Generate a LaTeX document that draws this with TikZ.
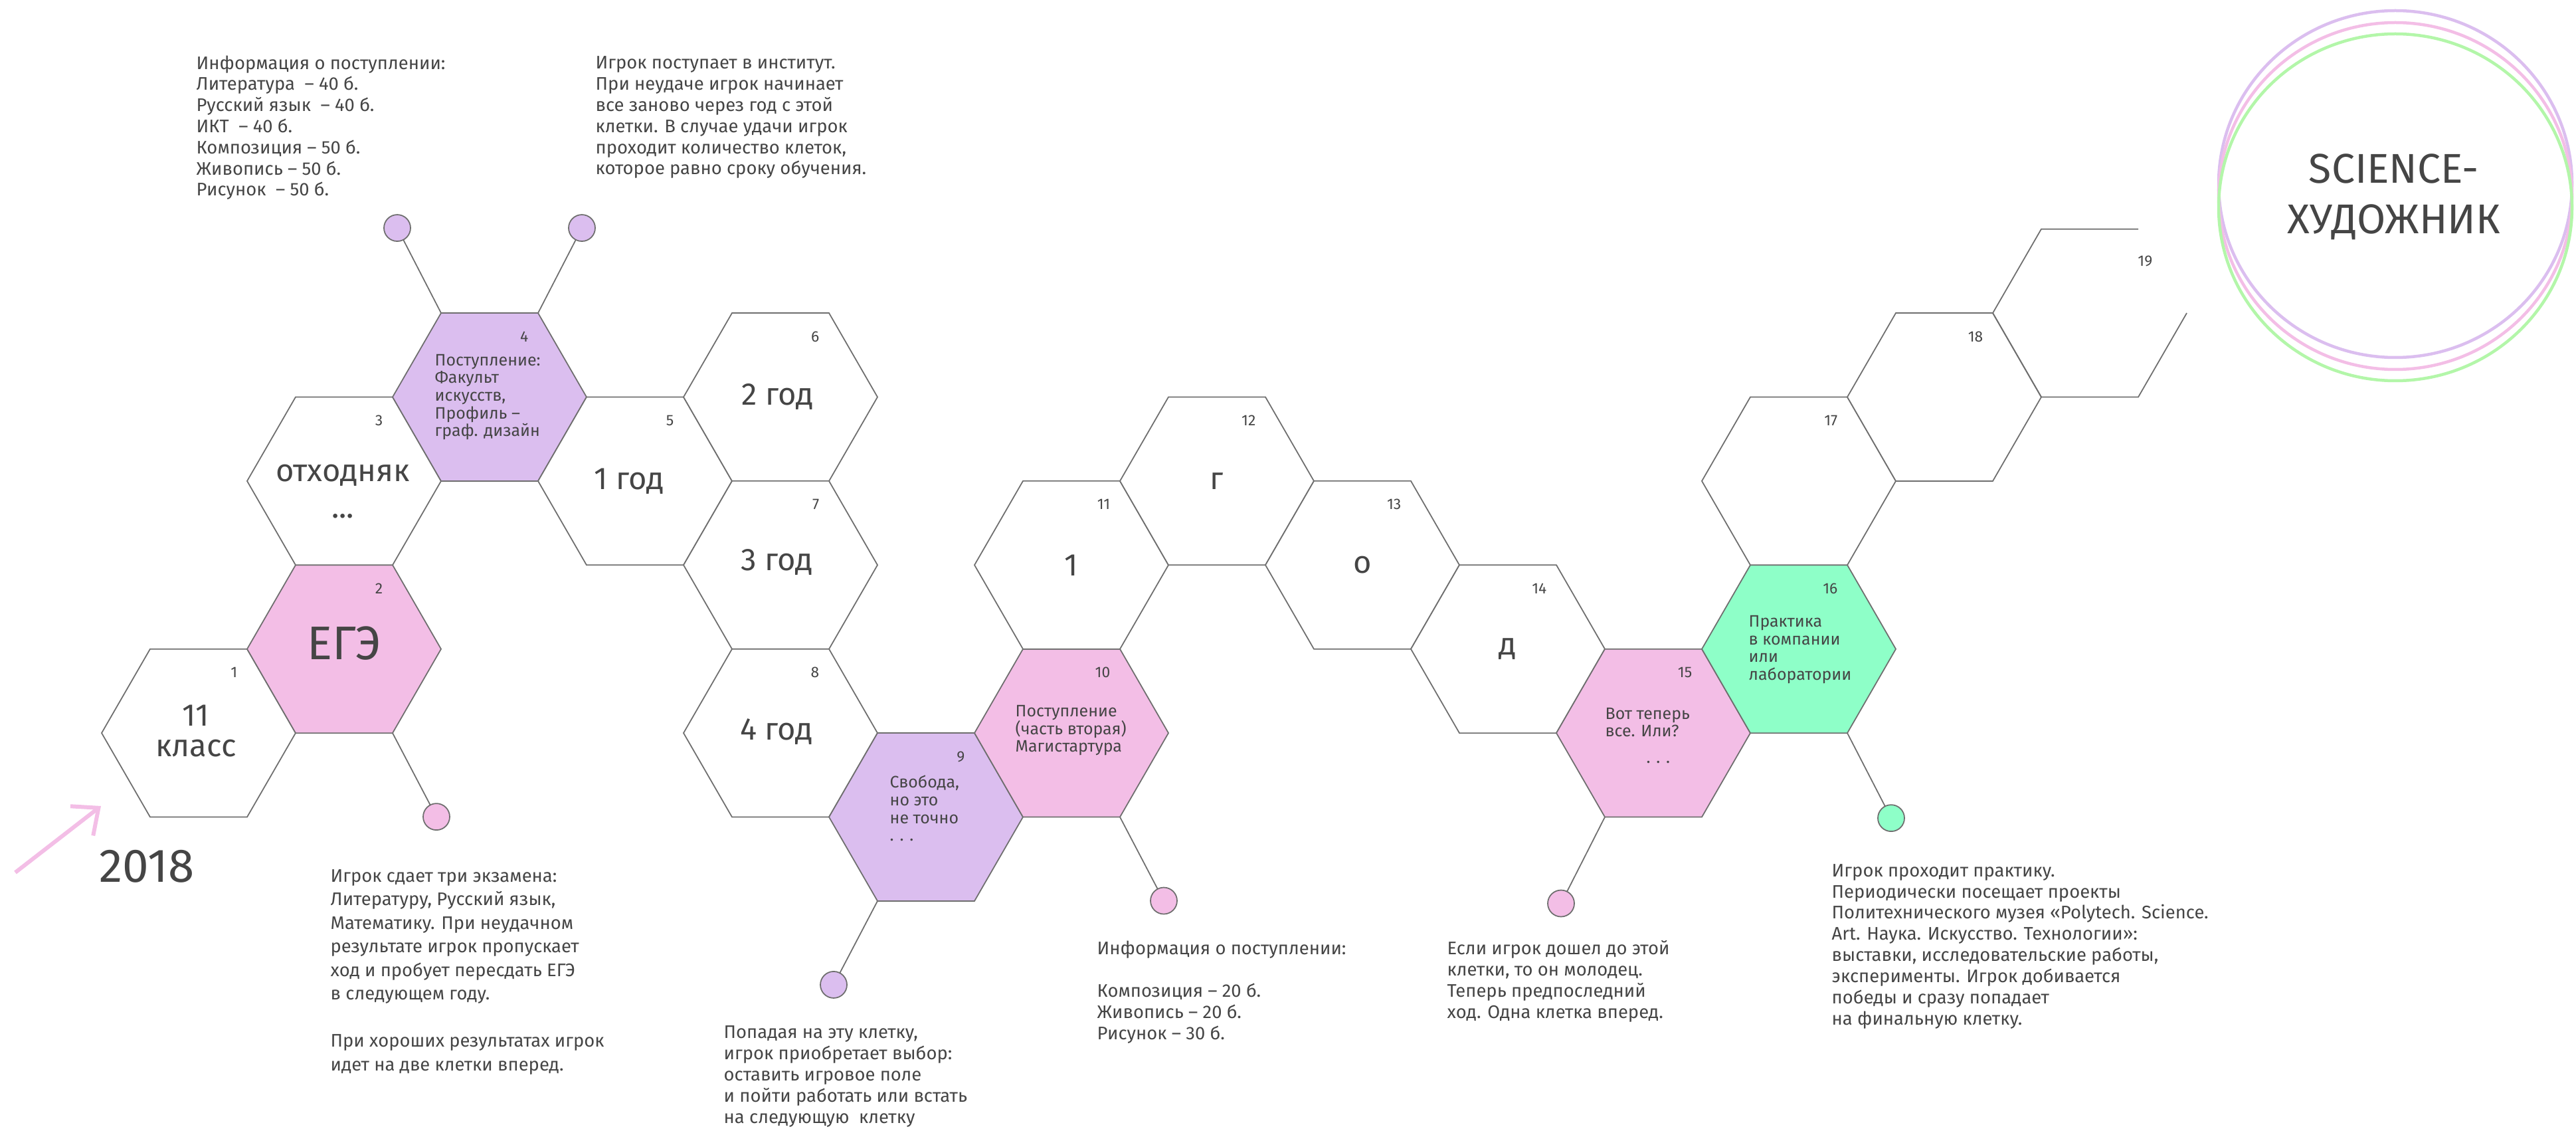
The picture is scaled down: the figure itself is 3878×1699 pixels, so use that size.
\documentclass[tikz,border=0pt]{standalone}
\usepackage{fontspec}
\setmainfont{Fira Sans}
\usepackage{tikz}
\usetikzlibrary{arrows.meta,shapes.geometric,positioning}

\definecolor{hexline}{HTML}{6E6E6E}
\definecolor{inkgray}{HTML}{454545}
\definecolor{egepink}{HTML}{F3BEE6}
\definecolor{lilac}{HTML}{DBBEEF}
\definecolor{mint}{HTML}{8EFFC8}
\definecolor{ringgreen}{HTML}{B3F6A9}

\begin{document}
\begin{tikzpicture}[x=0.1mm,y=-0.1mm,
        hexcell/.style={regular polygon, regular polygon sides=6, minimum size=29.2mm,
                        inner sep=0pt, outer sep=0pt, draw=hexline, line width=0.5pt},
        stem/.style={draw=hexline, line width=0.5pt},
        dotcell/.style={circle, minimum size=4mm, inner sep=0pt, outer sep=0pt,
                        draw=hexline, line width=0.5pt},
        numlabel/.style={anchor=east, inner sep=0pt, text=inkgray, font=\fontsize{6.5}{7.5}\selectfont},
        biglabel/.style={inner sep=0pt, text=inkgray, align=center, font=\fontsize{13.4}{13.1}\selectfont},
        celltext/.style={anchor=west, inner sep=0pt, text=inkgray, align=left, font=\fontsize{7.1}{7.57}\selectfont},
        notetext/.style={anchor=base west, inner sep=0pt, text=inkgray, align=left, font=\fontsize{7.8}{9.05}\selectfont},
        ring/.style={line width=0.45mm},
        pinkarrow/.style={draw=egepink, line width=0.6mm, -{Straight Barb[length=3.2mm, width=5.6mm]}}]
        \useasboundingbox (0,0) rectangle (3878,1699);

        % cells of the board
        \foreach \n/\c/\k/\f in {1/0/1/white, 2/1/2/egepink, 3/1/4/white, 4/2/5/lilac,
                                 5/3/4/white, 6/4/5/white, 7/4/3/white, 8/4/1/white,
                                 9/5/0/lilac, 10/6/1/egepink, 11/6/3/white, 12/7/4/white,
                                 13/8/3/white, 14/9/2/white, 15/10/1/egepink, 16/11/2/mint,
                                 17/11/4/white, 18/12/5/white}
        {
                \node[hexcell, fill=\f] (h\n) at ({299+219*\c}, {1229.5-126.4*\k}) {};
                \node[numlabel] at ([shift={(59,-91)}]h\n.center) {\n};
        }
        \node[hexcell, draw=none] (h19) at ({299+219*13}, {1229.5-126.4*6}) {};
        \draw[stem] (h19.0) -- (h19.300) -- (h19.240) -- (h19.180) -- (h19.120) -- (h19.60);
        \node[numlabel] at ([shift={(95,-78)}]h19.center) {19};

        % texts in the cells
        \node[biglabel] (cls) at ([shift={(-4,-3)}]h1.center) {11\\класс};
        \node[biglabel, font=\fontsize{20.2}{24}\selectfont] (ege) at ([shift={(0,-9)}]h2.center) {ЕГЭ};
        \node[biglabel, font=\fontsize{13.4}{15.6}\selectfont] (otx) at ([shift={(-2,16)}]h3.center) {отходняк\\...};
        \node[celltext] (t4) at ([shift={(-83,0)}]h4.center) {Поступление:\\Факульт\\искусств,\\Профиль –\\граф. дизайн};
        \node[biglabel] (y1) at ([shift={(-9,0)}]h5.center) {1 год};
        \node[biglabel] (y2) at ([shift={(-4,0)}]h6.center) {2 год};
        \node[biglabel] (y3) at ([shift={(-5,-4)}]h7.center) {3 год};
        \node[biglabel] (y4) at ([shift={(-6,-2)}]h8.center) {4 год};
        \node[celltext] (t9) at ([shift={(-55,-13)}]h9.center) {Свобода,\\но это\\не точно\\. . .};
        \node[celltext] (t10) at ([shift={(-85,-4)}]h10.center) {Поступление\\(часть вторая)\\Магистартура};
        \node[biglabel] (g1) at (h11.center) {1};
        \node[biglabel] (g2) at (h12.center) {г};
        \node[biglabel] (g3) at (h13.center) {о};
        \node[biglabel] (g4) at (h14.center) {д};
        \node[celltext] (t15) at ([shift={(-73,4)}]h15.center) {Вот теперь\\все. Или?\\[3.8pt]\hspace*{17.6pt}. . .};
        \node[celltext] (t16) at ([shift={(-76,1)}]h16.center) {Практика\\в компании\\или\\лаборатории};

        % stems with dots
        \node[dotcell, fill=lilac] (d4a) at ([shift={(-66,-128)}]h4.120) {};
        \node[dotcell, fill=lilac] (d4b) at ([shift={(66,-128)}]h4.60) {};
        \node[dotcell, fill=egepink] (d2) at ([shift={(66,126)}]h2.300) {};
        \node[dotcell, fill=lilac] (d9) at ([shift={(-66,126)}]h9.240) {};
        \node[dotcell, fill=egepink] (d10) at ([shift={(66,126)}]h10.300) {};
        \node[dotcell, fill=egepink] (d15) at ([shift={(-66,130)}]h15.240) {};
        \node[dotcell, fill=mint] (d16) at ([shift={(66,128)}]h16.300) {};
        \draw[stem] (h4.120) -- (d4a);
        \draw[stem] (h4.60) -- (d4b);
        \draw[stem] (h2.300) -- (d2);
        \draw[stem] (h9.240) -- (d9);
        \draw[stem] (h10.300) -- (d10);
        \draw[stem] (h15.240) -- (d15);
        \draw[stem] (h16.300) -- (d16);

        % notes (placed by the baseline of their last line)
        \node[notetext] (infoA) at (295,295) {Информация о поступлении:\\Литература~ – 40 б.\\Русский язык~ – 40 б.\\ИКТ~ – 40 б.\\Композиция – 50 б.\\Живопись – 50 б.\\Рисунок~ – 50 б.};
        \node[notetext] (infoB) at (896,263) {Игрок поступает в институт.\\При неудаче игрок начинает\\все заново через год с этой\\клетки. В случае удачи игрок\\проходит количество клеток,\\которое равно сроку обучения.};
        \node[notetext, font=\fontsize{7.8}{10.1}\selectfont] (noteEge) at (497,1611) {Игрок сдает три экзамена:\\Литературу, Русский язык,\\Математику. При неудачном\\результате игрок пропускает\\ход и пробует пересдать ЕГЭ\\в следующем году.\\[10.1pt]При хороших результатах игрок\\идет на две клетки вперед.};
        \node[notetext] (noteFree) at (1089,1690) {Попадая на эту клетку,\\игрок приобретает выбор:\\оставить игровое поле\\и пойти работать или встать\\на следующую~ клетку};
        \node[notetext] (infoMag) at (1651,1564) {Информация о поступлении:\\[9.05pt]Композиция – 20 б.\\Живопись – 20 б.\\Рисунок – 30 б.};
        \node[notetext] (noteLast) at (2178,1532) {Если игрок дошел до этой\\клетки, то он молодец.\\Теперь предпоследний\\ход. Одна клетка вперед.};
        \node[notetext] (notePrac) at (2757,1542) {Игрок проходит практику.\\Периодически посещает проекты\\Политехнического музея «Polytech. Science.\\Art. Наука. Искусство. Технологии»:\\выставки, исследовательские работы,\\эксперименты. Игрок добивается\\победы и сразу попадает\\на финальную клетку.};

        % start
        \coordinate (arrS) at (23,1313);
        \coordinate (arrE) at (152,1213);
        \draw[pinkarrow] (arrS) -- (arrE);
        \node[anchor=base, inner sep=0pt, text=inkgray, font=\fontsize{20.2}{24}\selectfont] (year) at (221,1327) {2018};

        % finish
        \draw[ring, draw=lilac] (3606,277) ellipse [x radius=266, y radius=261];
        \draw[ring, draw=egepink] (3606,295) ellipse [x radius=266, y radius=261];
        \draw[ring, draw=ringgreen] (3606,312) ellipse [x radius=266, y radius=261];
        \node[inner sep=0pt, text=inkgray, align=center, font=\fontsize{17.8}{21.6}\selectfont] (title) at (3604,296) {SCIENCE-\\ХУДОЖНИК};
\end{tikzpicture}
\end{document}
